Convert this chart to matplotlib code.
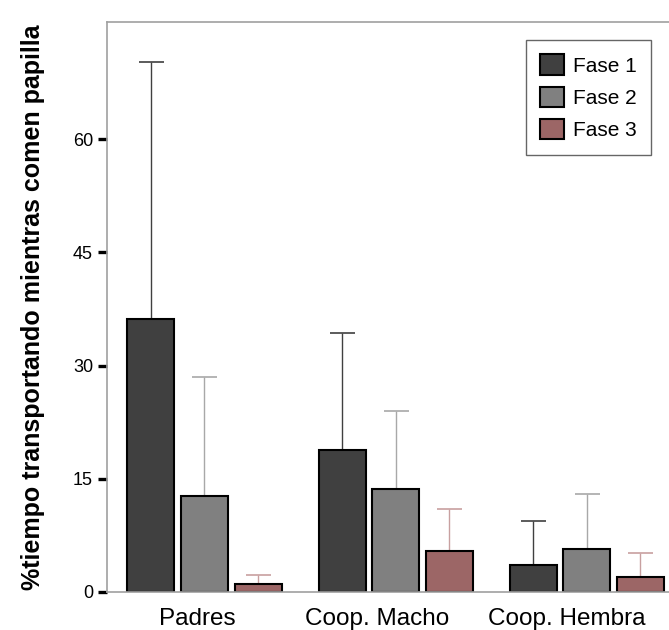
import matplotlib
matplotlib.use("Agg")
import matplotlib.pyplot as plt
import matplotlib.transforms as mtransforms
import numpy as np

plt.rcParams['font.family'] = ['Liberation Sans', 'DejaVu Sans']

groups = ["Padres", "Coop. Macho", "Coop. Hembra"]
fases = ["Fase 1", "Fase 2", "Fase 3"]
fase1 = [36.1, 18.8, 3.6]
fase2 = [12.75, 13.6, 5.65]
fase3 = [1.0, 5.4, 2.0]
err1 = [34.1, 15.5, 5.8]
err2 = [15.75, 10.4, 7.35]
err3 = [1.3, 5.55, 3.2]
yticks = [0, 15, 30, 45, 60]

bar_colors = ["#404040", "#808080", "#9c6666"]
err_colors = ["#404040", "#a8a8a8", "#c8a0a0"]

fig = plt.figure(figsize=(6.69, 6.30), dpi=100)
ax = fig.add_axes([107 / 669, 38 / 630, 562 / 669, 570 / 630])

x = np.arange(len(groups))
step = 0.28
width = 0.246
for i, (vals, errs) in enumerate(zip([fase1, fase2, fase3], [err1, err2, err3])):
    pos = x + (i - 1) * step
    ax.errorbar(pos, vals, yerr=[np.zeros(len(vals)), errs], fmt='none',
                ecolor=err_colors[i], elinewidth=1.0, capsize=9, capthick=1.2, zorder=1)
    ax.bar(pos, vals, width, color=bar_colors[i], edgecolor="black",
           linewidth=1.5, label=fases[i], zorder=2)

ax.set_xlim(-0.51, 2.43)
ax.set_ylim(0, 75.5)
ax.set_yticks(yticks)
ax.set_yticklabels([str(t) for t in yticks], fontsize=13)
ax.set_xticks(x)
ax.set_xticklabels(groups, fontsize=17.5)
ax.tick_params(axis='x', length=0, pad=11.5)
ax.tick_params(axis='y', direction='out', length=6.5, width=2.4, color='black', pad=3.6)

# the original labels sit a little left of the group centres
for lbl, dx in zip(ax.get_xticklabels(), [-7, -19, -20]):
    lbl.set_transform(lbl.get_transform() +
                      mtransforms.ScaledTranslation(dx / 100, 0, fig.dpi_scale_trans))

for side in ['left', 'top', 'bottom']:
    ax.spines[side].set_color('#a0a0a0')
    ax.spines[side].set_linewidth(1.2)
ax.spines['right'].set_visible(False)

ax.set_ylabel("%tiempo transportando mientras comen papilla", fontsize=18,
              fontweight='bold')
ax.yaxis.set_label_coords(-0.110, 0.5)

leg = ax.legend(loc='upper right', fontsize=15, frameon=True, fancybox=False,
                handlelength=1.15, handleheight=1.15, handletextpad=0.42,
                labelspacing=0.52, borderpad=0.7, borderaxespad=0.85)
leg.get_frame().set_edgecolor('#404040')
leg.get_frame().set_linewidth(1.0)

fig.savefig("out.png", dpi=100)
